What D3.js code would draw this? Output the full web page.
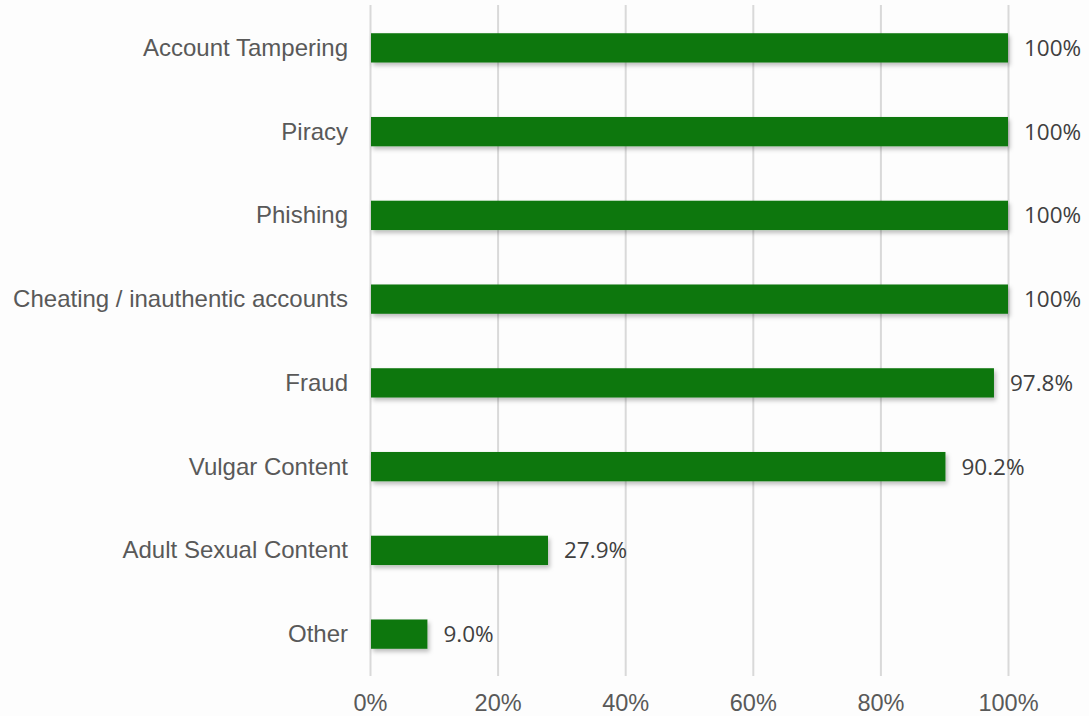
<!DOCTYPE html>
<html><head><meta charset="utf-8">
<script src="https://cdn.jsdelivr.net/npm/d3@7/dist/d3.min.js"></script>
<style>
html,body{margin:0;padding:0;background:#fdfdfd;}
svg{display:block;}
</style></head>
<body>
<svg id="chart" width="1089" height="716"></svg>
<script>
const categories = ["Account Tampering","Piracy","Phishing","Cheating / inauthentic accounts","Fraud","Vulgar Content","Adult Sexual Content","Other"];
const values = [100,100,100,100,97.8,90.2,27.9,9.0];
const valueLabels = ["100%","100%","100%","100%","97.8%","90.2%","27.9%","9.0%"];
const tickValues = [0,20,40,60,80,100];

const svg = d3.select("#chart");
const x = d3.scaleLinear().domain([0,100]).range([370,1008]);
const y = d3.scaleBand().domain(categories).range([6,676]).paddingInner(0.65).paddingOuter(0.325);

const defs = svg.append("defs");
const f = defs.append("filter").attr("id","sh").attr("x","-5%").attr("y","-30%").attr("width","115%").attr("height","180%");
f.append("feDropShadow").attr("dx",2).attr("dy",3).attr("stdDeviation",2).attr("flood-color","#000").attr("flood-opacity",0.25);

// gridlines
svg.append("g").selectAll("line").data(tickValues).join("line")
  .attr("x1",d=>x(d)+0.5).attr("x2",d=>x(d)+0.5)
  .attr("y1",5).attr("y2",676)
  .attr("stroke","#d9d9d9").attr("stroke-width",2);

// x axis tick labels
const xAxis = d3.axisBottom(x).tickValues(tickValues).tickFormat(d=>d+"%").tickSize(0).tickPadding(0);
const gx = svg.append("g").attr("transform","translate(0,703)").call(xAxis);
gx.select(".domain").remove();
gx.selectAll("text").attr("font-family","Liberation Sans, Arial, sans-serif").attr("font-size",23.5).attr("fill","#595959").attr("dy","0.35em");

// y axis labels
const yAxis = d3.axisLeft(y).tickSize(0).tickPadding(0);
const gy = svg.append("g").attr("transform","translate(348,0)").call(yAxis);
gy.select(".domain").remove();
gy.selectAll("text").attr("font-family","Liberation Sans, Arial, sans-serif").attr("font-size",24).attr("fill","#595959").attr("dy","0.33em");

// bars
svg.append("g").selectAll("rect").data(categories).join("rect")
  .attr("x",x(0)+1).attr("y",d=>y(d))
  .attr("width",(d,i)=>x(values[i])-x(0)-1)
  .attr("height",y.bandwidth())
  .attr("fill","#117711")
  .attr("filter","url(#sh)");

// value labels
svg.append("g").selectAll("text").data(categories).join("text")
  .attr("x",(d,i)=>x(values[i])+16)
  .attr("y",d=>y(d)+y.bandwidth()/2)
  .attr("dy","0.36em")
  .attr("font-family","Open Sans, sans-serif").attr("font-size",22.5).attr("fill","#404040")
  .text((d,i)=>valueLabels[i]);
</script>
</body></html>
